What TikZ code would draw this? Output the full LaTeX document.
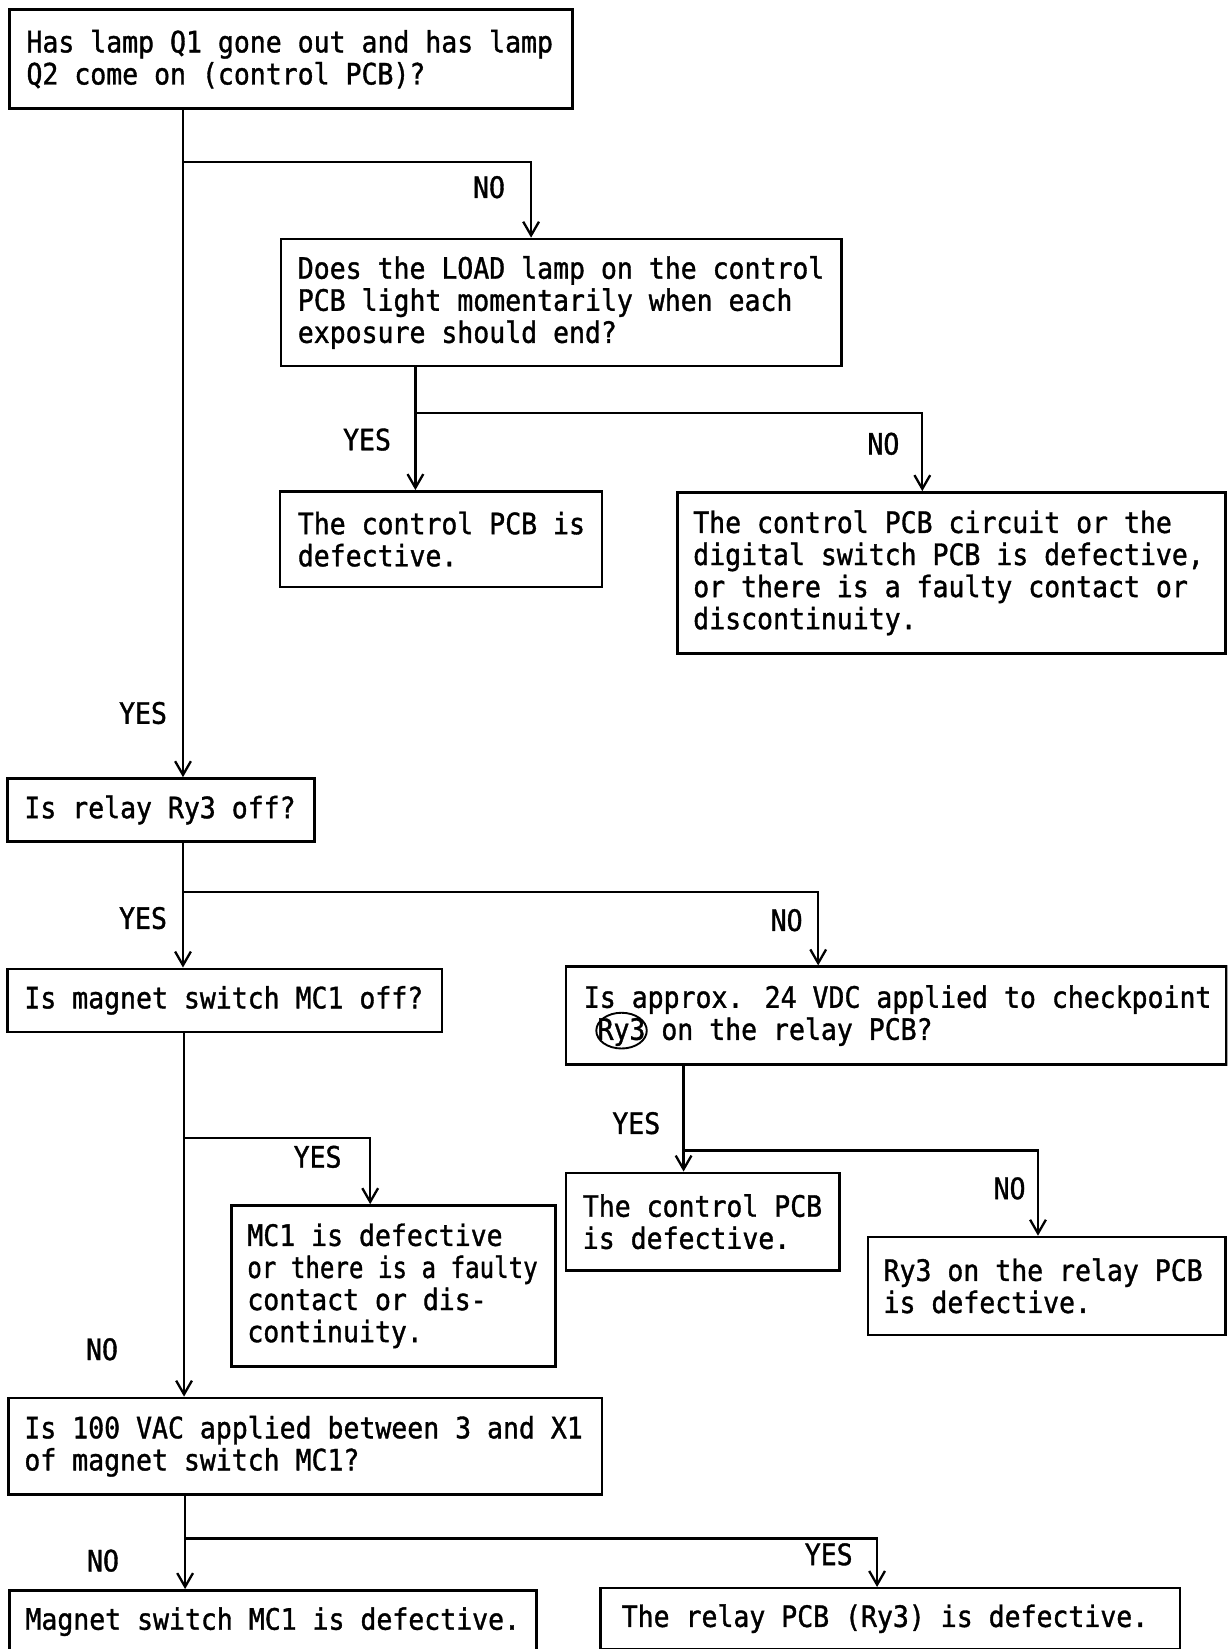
\documentclass[tikz,border=0pt]{standalone}
\usepackage{fontspec}
\usetikzlibrary{arrows.meta,calc,shapes.geometric}
\newfontfamily\chartfont[FakeStretch=0.9,FakeBold=1.2]{DejaVu Sans Mono}
\tikzset{
  flowbox/.style={draw, line width=2.4pt, anchor=north west, inner sep=0pt},
  txt/.style={font=\chartfont\fontsize{28}{30.5}\selectfont, align=left, inner sep=0pt, anchor=west},
  lbl/.style={font=\chartfont\fontsize{28}{30.5}\selectfont, inner sep=0pt},
  arr/.style={line width=2.2pt, -{Straight Barb[length=13pt,width=15pt,line width=2.2pt]}}
}
\begin{document}
\begin{tikzpicture}[x=1pt,y=-1pt]
\useasboundingbox (0,0) rectangle (1167,1568);
\clip (0,0) rectangle (1167,1568);
\fill[white] (0,0) rectangle (1167,1568);

% boxes
\node[flowbox, minimum width=535pt, minimum height=94pt]  (b1)  at (8,8)      {};
\node[flowbox, minimum width=533pt, minimum height=121pt] (b2)  at (266,226)  {};
\node[flowbox, minimum width=306pt, minimum height=91pt]  (b3)  at (265,466)  {};
\node[flowbox, minimum width=521pt, minimum height=153pt] (b4)  at (643,467)  {};
\node[flowbox, minimum width=292pt, minimum height=60pt]  (b5)  at (6,739)    {};
\node[flowbox, minimum width=413pt, minimum height=60pt]  (b6)  at (6,920)    {};
\node[flowbox, minimum width=628pt, minimum height=93pt]  (b7)  at (537,918)  {};
\node[flowbox, minimum width=308pt, minimum height=153pt] (b8)  at (219,1145) {};
\node[flowbox, minimum width=260pt, minimum height=93pt]  (b9)  at (537,1114) {};
\node[flowbox, minimum width=564pt, minimum height=92pt]  (b10) at (7,1328)   {};
\node[flowbox, minimum width=340pt, minimum height=93pt]  (b11) at (824,1175) {};
\node[flowbox, minimum width=501pt, minimum height=64pt]  (b12) at (8,1511)   {};
\node[flowbox, minimum width=551pt, minimum height=58pt]  (b13) at (570,1509) {};

% box texts
\node[txt] (t1)  at ($(b1.west)+(17,0)$)  {Has lamp Q1 gone out and has lamp\\Q2 come on (control PCB)?};
\node[txt] (t2)  at ($(b2.west)+(17,0)$)  {Does the LOAD lamp on the control\\PCB light momentarily when each\\exposure should end?};
\node[txt] (t3)  at ($(b3.west)+(18,0)$)  {The control PCB is\\defective.};
\node[txt] (t4)  at ($(b4.west)+(16,0)$)  {The control PCB circuit or the\\digital switch PCB is defective,\\or there is a faulty contact or\\discontinuity.};
\node[txt] (t5)  at ($(b5.west)+(17,0)$)  {Is relay Ry3 off?};
\node[txt] (t6)  at ($(b6.west)+(17,0)$)  {Is magnet switch MC1 off?};
\node[txt] (t7)  at ($(b7.west)+(18,0)$)  {Is approx. 24 VDC applied to checkpoint\\\hspace*{13pt}Ry3 on the relay PCB?};
\node[draw, ellipse, line width=1.8pt, minimum width=48pt, minimum height=34pt, inner sep=0pt] (ring) at (591,980) {};
\node[txt] (t8)  at ($(b8.west)+(16,0)$)  {MC1 is defective\\\scalebox{0.91}[1]{or there is a faulty}\\contact or dis-\\continuity.};
\node[txt] (t9)  at ($(b9.west)+(17,0)$)  {The control PCB\\is defective.};
\node[txt] (t10) at ($(b10.west)+(16,0)$) {Is 100 VAC applied between 3 and X1\\of magnet switch MC1?};
\node[txt] (t11) at ($(b11.west)+(16,0)$) {Ry3 on the relay PCB\\is defective.};
\node[txt] (t12) at (24,1542) {Magnet switch MC1 is defective.};
\node[txt] (t13) at ($(b13.west)+(21,0)$) {The relay PCB (Ry3) is defective.};

% junctions and branch columns
\coordinate (j1) at (174,154);  \coordinate (k1) at (505,0);
\coordinate (j2) at (395,393);  \coordinate (k2) at (877,0);
\coordinate (j3) at (174,848);  \coordinate (k3) at (778,0);
\coordinate (j4) at (175,1082); \coordinate (k4) at (352,0);
\coordinate (j5) at (650,1094); \coordinate (k5) at (987,0);
\coordinate (j6) at (176,1463); \coordinate (k6) at (834,0);

% connectors
\draw[arr] (b1.south -| j1) -- (b5.north -| j1);
\draw[arr] (j1) -| (b2.north -| k1);
\draw[arr] (b2.south -| j2) -- (b3.north -| j2);
\draw[arr] (j2) -| (b4.north -| k2);
\draw[arr] (b5.south -| j3) -- (b6.north -| j3);
\draw[arr] (j3) -| (b7.north -| k3);
\draw[arr] (b6.south -| j4) -- (b10.north -| j4);
\draw[arr] (j4) -| (b8.north -| k4);
\draw[arr] (b7.south -| j5) -- (b9.north -| j5);
\draw[arr] (j5) -| (b11.north -| k5);
\draw[arr] (b10.south -| j6) -- (b12.north -| j6);
\draw[arr] (j6) -| (b13.north -| k6);

% branch labels
\node[lbl] (l1)  at (465,178)  {NO};
\node[lbl] (l2)  at (349,418)  {YES};
\node[lbl] (l3)  at (840,422)  {NO};
\node[lbl] (l4)  at (136,678)  {YES};
\node[lbl] (l5)  at (136,873)  {YES};
\node[lbl] (l6)  at (748,875)  {NO};
\node[lbl] (l7)  at (302,1100) {YES};
\node[lbl] (l8)  at (97,1283)  {NO};
\node[lbl] (l9)  at (605,1068) {YES};
\node[lbl] (l10) at (960,1130) {NO};
\node[lbl] (l11) at (98,1484)  {NO};
\node[lbl] (l12) at (788,1478) {YES};
\end{tikzpicture}
\end{document}
